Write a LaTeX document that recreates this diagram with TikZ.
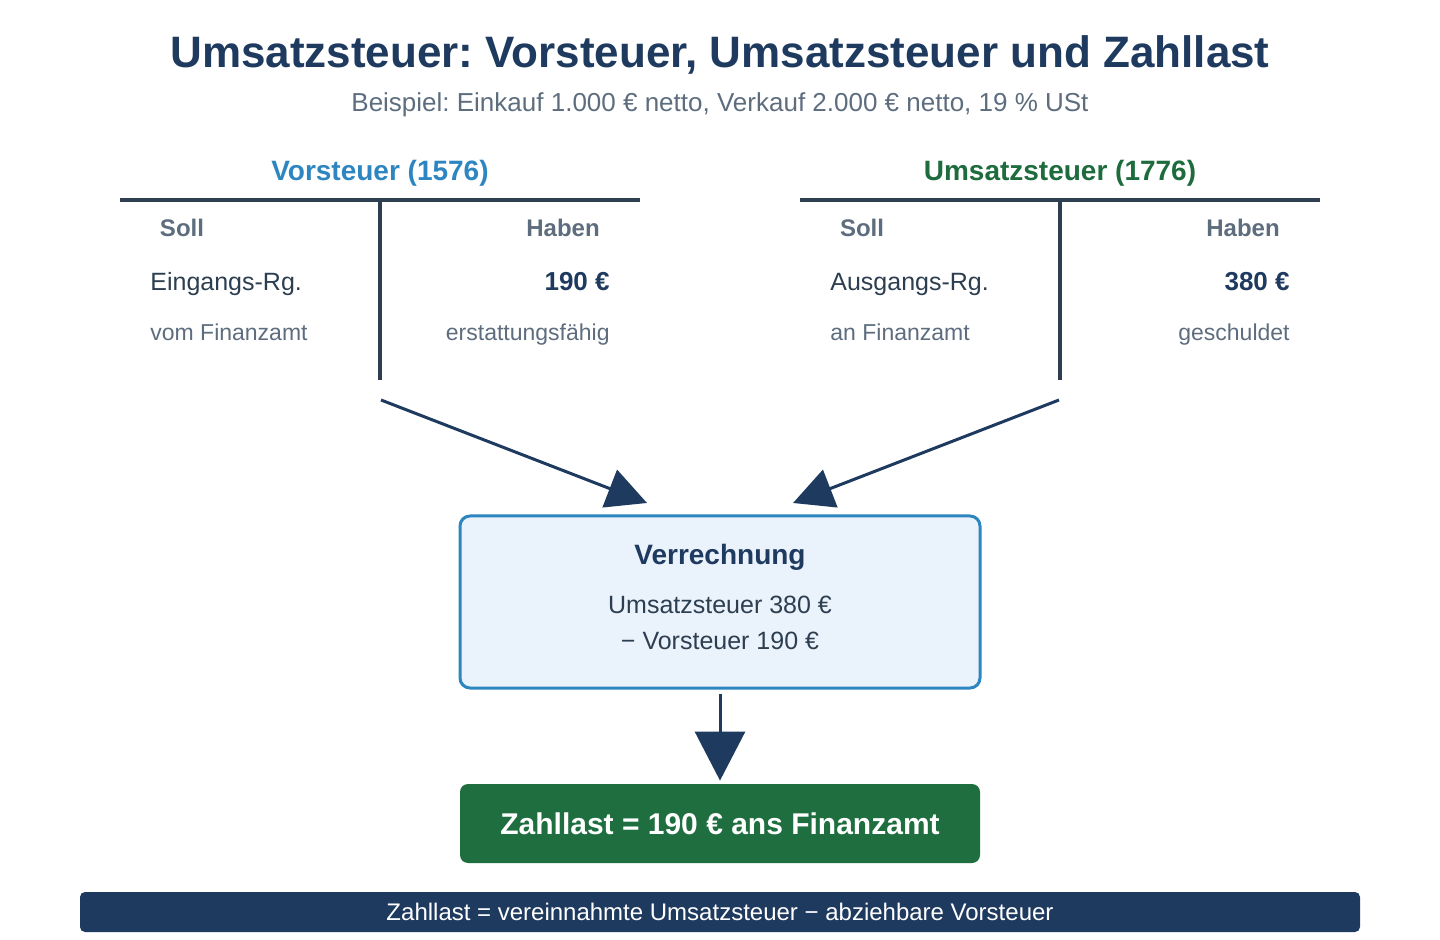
\documentclass[tikz,border=0pt]{standalone}
\usepackage{fontspec}
\setmainfont{Liberation Sans}
\usepackage{xcolor}
\usetikzlibrary{positioning,arrows.meta}
\definecolor{navy}{RGB}{31, 58, 95}
\definecolor{vsblue}{RGB}{46, 134, 193}
\definecolor{usgreen}{RGB}{30, 107, 62}
\definecolor{ink}{RGB}{44, 62, 80}
\definecolor{muted}{RGB}{93, 109, 126}
\definecolor{paleblue}{RGB}{234, 242, 251}
\definecolor{zlgreen}{RGB}{30, 110, 64}
\frenchspacing

\begin{document}
\begin{tikzpicture}[x=0.5pt, y=-0.5pt,
  every node/.style={inner sep=0pt},
  ttl/.style={font=\fontsize{22}{26}\selectfont\bfseries, text=navy, anchor=base},
  sub/.style={font=\fontsize{13}{16}\selectfont, text=muted, anchor=base},
  acct/.style={font=\fontsize{14}{17}\selectfont\bfseries, anchor=base},
  side/.style={font=\fontsize{12}{14}\selectfont\bfseries, text=muted, anchor=base},
  entry/.style={font=\fontsize{12.5}{15}\selectfont, text=ink, anchor=base west},
  amount/.style={font=\fontsize{13}{16}\selectfont\bfseries, text=navy, anchor=base east},
  note/.style={font=\fontsize{11.5}{14}\selectfont, text=muted},
  tline/.style={line width=1.6pt, draw=ink},
  arr/.style={-{Triangle[length=20pt,width=20pt]}, line width=1.5pt, draw=navy, fill=navy},
  bigarr/.style={-{Triangle[length=24.5pt,width=25pt]}, line width=1.5pt, draw=navy, fill=navy},
  calcbox/.style={rectangle, draw=vsblue, line width=1.5pt, fill=paleblue,
                  rounded corners=5pt, minimum width=260pt, minimum height=86pt},
  resbox/.style={rectangle, fill=zlgreen, rounded corners=4pt,
                 minimum width=260pt, minimum height=39.5pt,
                 font=\fontsize{15}{18}\selectfont\bfseries, text=white},
  footbar/.style={rectangle, fill=navy, rounded corners=2.5pt,
                  minimum width=640pt, minimum height=20pt,
                  font=\fontsize{12}{14}\selectfont, text=white}
]
  \useasboundingbox (0,0) rectangle (1440,940);

  % heading
  \node[ttl] (title) at (720,68) {Umsatzsteuer: Vorsteuer, Umsatzsteuer und Zahllast};
  \node[sub] (subtitle) at (720,112) {Beispiel: Einkauf 1.000 € netto, Verkauf 2.000 € netto, 19 \% USt};

  % T-account Vorsteuer
  \node[acct, text=vsblue] (vsHead) at (380,181) {Vorsteuer (1576)};
  \draw[tline] (120,200) -- (640,200);
  \draw[tline] (380,200) -- (380,380);
  \node[side] (vsSoll)  at (182,237) {Soll};
  \node[side] (vsHaben) at (563,237) {Haben};
  \node[entry] (vsIn)   at (150,291) {Eingangs-Rg.};
  \node[amount] (vsAmt) at (610,291) {190 €};
  \node[note, anchor=base west] (vsFrom) at (150,341) {vom Finanzamt};
  \node[note, anchor=base east] (vsRef)  at (610,341) {erstattungsfähig};

  % T-account Umsatzsteuer
  \node[acct, text=usgreen] (usHead) at (1060,181) {Umsatzsteuer (1776)};
  \draw[tline] (800,200) -- (1320,200);
  \draw[tline] (1060,200) -- (1060,380);
  \node[side] (usSoll)  at (862,237) {Soll};
  \node[side] (usHaben) at (1243,237) {Haben};
  \node[entry] (usOut)  at (830,291) {Ausgangs-Rg.};
  \node[amount] (usAmt) at (1290,291) {380 €};
  \node[note, anchor=base west] (usTo)  at (830,341) {an Finanzamt};
  \node[note, anchor=base east] (usDue) at (1290,341) {geschuldet};

  % offsetting
  \node[calcbox] (calc) at (720,602) {};
  \node[acct, text=navy] (calcHead) at (720,565) {Verrechnung};
  \node[entry, anchor=base] (calcUs) at (720,613) {Umsatzsteuer 380 €};
  \node[entry, anchor=base] (calcVs) at (720,649) {− Vorsteuer 190 €};

  \node[resbox] (result) at (720,823.5) {Zahllast = 190 € ans Finanzamt};
  \node[footbar] (rule) at (720,912) {Zahllast = vereinnahmte Umsatzsteuer − abziehbare Vorsteuer};

  % connectors
  \coordinate (vsOut) at (381,400);
  \coordinate (usOutArr) at (1059,400);
  \coordinate (calcInL) at (647,503);
  \coordinate (calcInR) at (793,503);
  \draw[arr] (vsOut) -- (calcInL);
  \draw[arr] (usOutArr) -- (calcInR);
  \draw[bigarr, shorten <=2pt, shorten >=1.5pt] (calc.south) -- (result.north);
\end{tikzpicture}
\end{document}
